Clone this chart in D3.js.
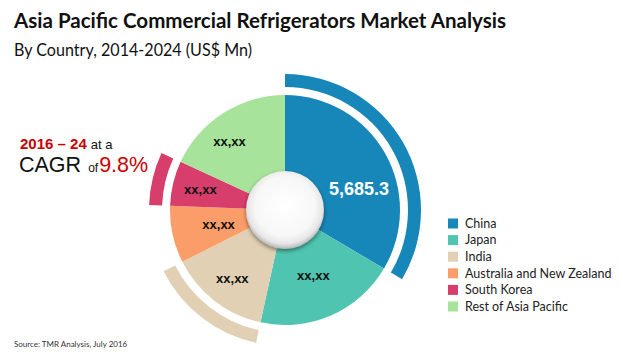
<!DOCTYPE html>
<html><head><meta charset="utf-8">
<script src="https://cdn.jsdelivr.net/npm/d3@7"></script>
<style>body{margin:0;background:#fff}svg{display:block}</style>
</head><body>
<svg id="c" width="620" height="357"></svg>
<script>
const categories = ["China","Japan","India","Australia and New Zealand","South Korea","Rest of Asia Pacific"];
const values = [5685.3, 3380, 2400, 1360, 1070, 3075];
const valueLabels = ["5,685.3","xx,xx","xx,xx","xx,xx","xx,xx","xx,xx"];
const highlighted = ["China","India","South Korea"];
const colors = ["#1787b9","#4fc5b1","#e1d0b4","#fb9d69","#d73e6c","#a7e39b"];

const svg = d3.select("#c");
const cx = 285, cy = 210;
const defs = svg.append("defs");
const rg = defs.append("radialGradient").attr("id","btn").attr("cx","50%").attr("cy","45%").attr("r","55%");
rg.append("stop").attr("offset","0%").attr("stop-color","#ffffff");
rg.append("stop").attr("offset","70%").attr("stop-color","#f7f7f7");
rg.append("stop").attr("offset","88%").attr("stop-color","#e6e6e6");
rg.append("stop").attr("offset","100%").attr("stop-color","#b5b5b5");
const f = defs.append("filter").attr("id","sh").attr("x","-30%").attr("y","-30%").attr("width","160%").attr("height","160%");
f.append("feDropShadow").attr("dx",0).attr("dy",2).attr("stdDeviation",2).attr("flood-color","#000").attr("flood-opacity",0.45);

// titles
svg.append("text").attr("x",14).attr("y",28).attr("font-family","Lato, 'Open Sans', sans-serif")
  .attr("font-weight","bold").attr("font-size",21).attr("fill","#111")
  .attr("textLength",492).attr("lengthAdjust","spacingAndGlyphs")
  .text("Asia Pacific Commercial Refrigerators Market Analysis");
svg.append("text").attr("x",14).attr("y",56).attr("font-family","Lato, 'Open Sans', sans-serif")
  .attr("font-size",17).attr("fill","#111")
  .attr("textLength",238).attr("lengthAdjust","spacingAndGlyphs")
  .text("By Country, 2014-2024 (US$ Mn)");

const color = d3.scaleOrdinal().domain(categories).range(colors);
const pie = d3.pie().sort(null).value(d => d.v).startAngle(0).endAngle(2*Math.PI);
const data = categories.map((c,i) => ({c, v: values[i], l: valueLabels[i]}));
const arcs = pie(data);
const arc = d3.arc().innerRadius(0).outerRadius(115);
const ring = d3.arc().innerRadius(123).outerRadius(136);

const g = svg.append("g").attr("transform",`translate(${cx},${cy})`);
g.selectAll("path.s").data(arcs).join("path").attr("class","s")
  .attr("d",arc).attr("fill",d => color(d.data.c));
g.selectAll("path.r").data(arcs.filter(d => highlighted.includes(d.data.c))).join("path").attr("class","r")
  .attr("d",ring).attr("fill",d => color(d.data.c));

// center button
g.append("circle").attr("r",39).attr("fill","url(#btn)").attr("filter","url(#sh)");

// labels
const labelPos = {China:{a:1.29,r:77}, Japan:{a:null,r:71}, India:{a:null,r:86}, "Australia and New Zealand":{a:null,r:68}, "South Korea":{a:null,r:87}, "Rest of Asia Pacific":{a:5.6,r:88}};
g.selectAll("text.v").data(arcs).join("text").attr("class","v")
  .each(function(d){
    const p = labelPos[d.data.c];
    const a = p.a !== null ? p.a : (d.startAngle + d.endAngle)/2;
    d3.select(this).attr("x", Math.sin(a)*p.r).attr("y", -Math.cos(a)*p.r);
  })
  .attr("text-anchor","middle").attr("dy","0.35em")
  .attr("font-family","Arial, 'Liberation Sans', sans-serif").attr("font-weight","bold")
  .attr("font-size",d => d.data.c === "China" ? 18 : 13)
  .attr("fill",d => d.data.c === "China" ? "#fff" : "#111")
  .text(d => d.data.l);

// CAGR text
const t1 = svg.append("text").attr("x",20).attr("y",149).attr("font-family","Arial, 'Liberation Sans', sans-serif");
t1.append("tspan").attr("font-size",15).attr("font-weight","bold").attr("fill","#cc0000").text("2016 – 24");
t1.append("tspan").attr("font-size",13).attr("fill","#111").attr("dx",4).text("at a");
const t2 = svg.append("text").attr("x",19).attr("y",172).attr("font-family","Arial, 'Liberation Sans', sans-serif");
t2.append("tspan").attr("font-size",21.5).attr("fill","#111").text("CAGR");
t2.append("tspan").attr("font-size",12).attr("fill","#111").attr("dx",7).text("of");
t2.append("tspan").attr("font-size",21.5).attr("fill","#cc0000").attr("dx",1).text("9.8%");

// legend
const lg = svg.append("g").attr("transform","translate(448,0)");
const rows = lg.selectAll("g").data(categories).join("g")
  .attr("transform",(d,i) => `translate(0,${223.5 + i*16.6})`);
rows.append("rect").attr("x",0).attr("y",-5).attr("width",10).attr("height",10).attr("fill",d => color(d));
rows.append("text").attr("x",17).attr("dy","0.35em").attr("font-family","Lato, 'Open Sans', sans-serif")
  .attr("font-size",12.5).attr("fill","#222").text(d => d);

svg.append("text").attr("x",14).attr("y",347).attr("font-family","Lato, 'Open Sans', sans-serif")
  .attr("font-size",8).attr("fill","#333").text("Source: TMR Analysis, July 2016");
</script>
</body></html>
